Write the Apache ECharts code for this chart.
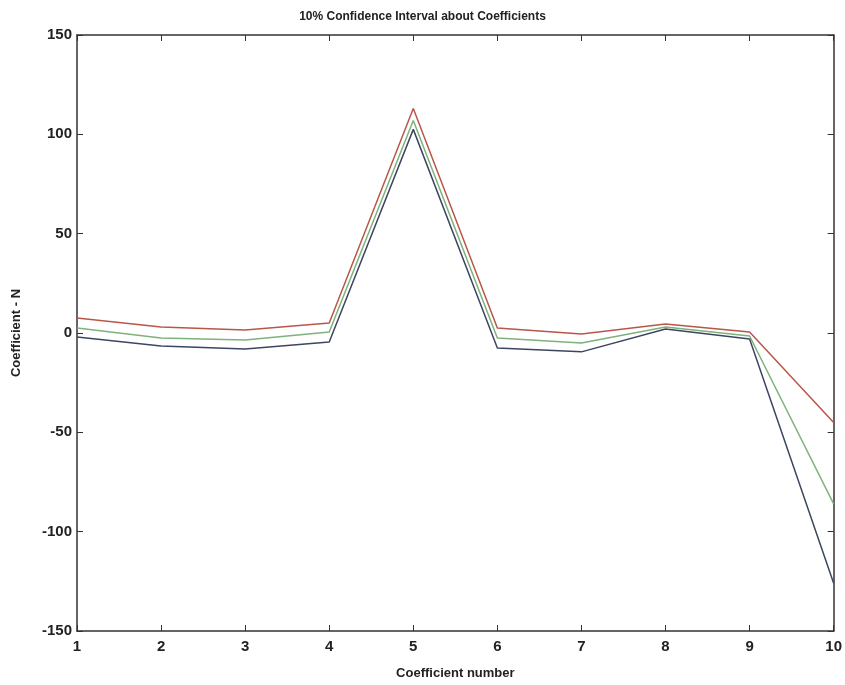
<!DOCTYPE html>
<html>
<head>
<meta charset="utf-8">
<script src="https://cdn.jsdelivr.net/npm/echarts@6/dist/echarts.min.js"></script>
<style>html,body{margin:0;padding:0;background:#fff;}#chart{width:845px;height:685px;}</style>
</head>
<body>
<div id="chart"></div>
<script>
var coefficientNumbers = [1, 2, 3, 4, 5, 6, 7, 8, 9, 10];
var upperBound = [7.5, 3, 1.5, 5, 113, 2.5, -0.5, 4.5, 0.5, -45];
var estimate = [2.5, -2.5, -3.5, 0.5, 107, -2.5, -5, 3, -1.5, -86];
var lowerBound = [-2, -6.5, -8, -4.5, 102.5, -7.5, -9.5, 2, -3, -126];
var yTicks = [-150, -100, -50, 0, 50, 100, 150];

function pairs(vals) { return coefficientNumbers.map(function (x, i) { return [x, vals[i]]; }); }

var chart = echarts.init(document.getElementById('chart'));
var font = 'Liberation Sans, Arial, sans-serif';
var axisLine = { show: true, onZero: false, lineStyle: { color: '#333', width: 1.5 } };
chart.setOption({
  animation: false,
  backgroundColor: '#fff',
  title: {
    text: '10% Confidence Interval about Coefficients',
    left: 'center', top: 6,
    textStyle: { fontFamily: font, fontSize: 12, fontWeight: 'bold', color: '#222' }
  },
  grid: { left: 77, right: 10, top: 35, bottom: 52 },
  xAxis: [{
    type: 'value', min: 1, max: 10, interval: 1, position: 'bottom',
    name: 'Coefficient number', nameLocation: 'middle', nameGap: 36,
    nameTextStyle: { fontFamily: font, fontSize: 13, fontWeight: 'bold', color: '#222' },
    axisLine: axisLine,
    axisTick: { show: true, inside: true, length: 6, lineStyle: { color: '#333' } },
    axisLabel: { fontFamily: font, fontSize: 15, fontWeight: 'bold', color: '#222', margin: 8 },
    splitLine: { show: false }
  }, {
    type: 'value', min: 1, max: 10, interval: 1, position: 'top',
    axisLine: axisLine,
    axisTick: { show: true, inside: true, length: 6, lineStyle: { color: '#333' } },
    axisLabel: { show: false }, splitLine: { show: false }
  }],
  yAxis: [{
    type: 'value', min: yTicks[0], max: yTicks[yTicks.length - 1], interval: 50, position: 'left',
    name: 'Coefficient - N', nameLocation: 'middle', nameGap: 54,
    nameTextStyle: { fontFamily: font, fontSize: 13, fontWeight: 'bold', color: '#222' },
    axisLine: axisLine,
    axisTick: { show: true, inside: true, length: 6, lineStyle: { color: '#333' } },
    axisLabel: { fontFamily: font, fontSize: 15, fontWeight: 'bold', color: '#222', margin: 5 },
    splitLine: { show: false }
  }, {
    type: 'value', min: yTicks[0], max: yTicks[yTicks.length - 1], interval: 50, position: 'right',
    axisLine: axisLine,
    axisTick: { show: true, inside: true, length: 6, lineStyle: { color: '#333' } },
    axisLabel: { show: false }, splitLine: { show: false }
  }],
  series: [
    { type: 'line', data: pairs(upperBound), symbol: 'none', lineStyle: { color: '#b8564a', width: 1.5 } },
    { type: 'line', data: pairs(estimate), symbol: 'none', lineStyle: { color: '#7db27a', width: 1.5 } },
    { type: 'line', data: pairs(lowerBound), symbol: 'none', lineStyle: { color: '#3d4660', width: 1.5 } }
  ]
});
</script>
</body>
</html>
